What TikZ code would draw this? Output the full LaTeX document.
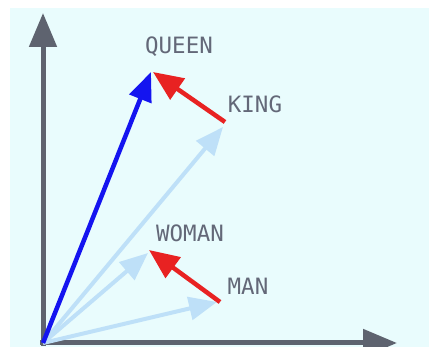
\documentclass[tikz,border=0pt]{standalone}
\usepackage{fontspec}
\setmonofont{DejaVu Sans Mono}
\usetikzlibrary{arrows.meta}
\definecolor{bgc}{HTML}{E9FCFD}
\definecolor{axisc}{HTML}{5E636F}
\definecolor{lblue}{HTML}{BEE0F8}
\definecolor{dblue}{HTML}{1414F0}
\definecolor{redc}{HTML}{E82222}
\definecolor{txtc}{HTML}{636878}
\tikzset{
  axisline/.style={draw=axisc, line width=5pt, -{Triangle[length=34pt,width=27pt]}},
  lightvec/.style={draw=lblue, line width=4pt, -{Triangle[length=28pt,width=23pt]}},
  queenvec/.style={draw=dblue, line width=4.5pt, -{Triangle[length=29pt,width=23pt]}},
  diffvec/.style={draw=redc, line width=4.5pt, -{Triangle[length=30pt,width=25pt]}},
  wordlabel/.style={text=txtc, font=\ttfamily\fontsize{22.5}{24}\selectfont, inner sep=0pt}
}
\begin{document}
\begin{tikzpicture}[x=1pt,y=-1pt]
\useasboundingbox (0,0) rectangle (429,347);
\fill[white] (0,0) rectangle (429,347);
\fill[bgc] (10,8) rectangle (429,347);
% coordinates
\coordinate (O) at (43,343);
\coordinate (ytop) at (43,13);
\coordinate (xend) at (397,343);
\coordinate (Q) at (151,72);
\coordinate (Qr) at (153,72);
\coordinate (K) at (223,127);
\coordinate (Ks) at (225,122);
\coordinate (W) at (148,253);
\coordinate (Wr) at (149,250);
\coordinate (M) at (217,302);
\coordinate (Ms) at (220,302);
% axes
\draw[axisline] (43,346) -- (ytop);
\draw[axisline] (40,343) -- (xend);
% light vectors
\draw[lightvec] (O) -- (K);
\draw[lightvec] (O) -- (W);
\draw[lightvec] (O) -- (M);
% queen
\draw[queenvec] (O) -- (Q);
% differences
\draw[diffvec] (Ks) -- (Qr);
\draw[diffvec] (Ms) -- (Wr);
% labels
\node[wordlabel] (lq) at (179,47) {QUEEN};
\node[wordlabel] (lk) at (255,104) {KING};
\node[wordlabel] (lw) at (190,233) {WOMAN};
\node[wordlabel] (lm) at (248,286) {MAN};
\end{tikzpicture}
\end{document}
